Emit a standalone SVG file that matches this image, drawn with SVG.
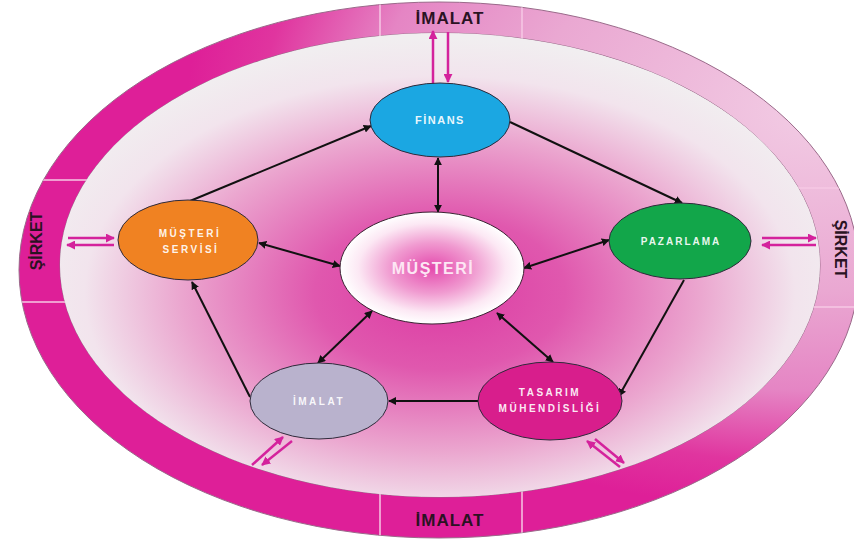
<svg xmlns="http://www.w3.org/2000/svg" width="854" height="540" viewBox="0 0 854 540">
<style>
.ring-t{font-family:"Liberation Sans",Arial,sans-serif;font-weight:bold;fill:#2a1222;}
.nt{font-family:"Liberation Sans",Arial,sans-serif;font-weight:bold;font-size:10px;fill:#ffffff;fill-opacity:0.92;text-anchor:middle;letter-spacing:2.5px;}
.node{stroke:#2e2a3a;stroke-width:1;}
.conn{stroke:#111111;stroke-width:2;fill:none;}
.pink{stroke:#d4229c;stroke-width:2.5;fill:none;}
.div{stroke:#f6c8e4;stroke-width:1.5;}
</style>
<defs>
<radialGradient id="ringG" cx="0.95" cy="0.2" r="0.75">
<stop offset="0" stop-color="#f2cce4"/>
<stop offset="0.45" stop-color="#eaa8d2"/>
<stop offset="0.7" stop-color="#e585c4"/>
<stop offset="0.88" stop-color="#e0359f"/>
<stop offset="1" stop-color="#de1f98"/>
</radialGradient>
<radialGradient id="inG" cx="0.5" cy="0.56" r="0.55">
<stop offset="0" stop-color="#dc3aa3"/>
<stop offset="0.3" stop-color="#e058ae"/>
<stop offset="0.62" stop-color="#eba6cf"/>
<stop offset="0.85" stop-color="#f2e4ed"/>
<stop offset="1" stop-color="#f1eef0"/>
</radialGradient>
<radialGradient id="musG" cx="0.5" cy="0.5" r="0.5">
<stop offset="0" stop-color="#e44aad"/>
<stop offset="0.45" stop-color="#f09ad0"/>
<stop offset="0.8" stop-color="#fce8f4"/>
<stop offset="1" stop-color="#ffffff"/>
</radialGradient>
<clipPath id="ringClip">
<path clip-rule="evenodd" d="M19 270 A420 268 0 1 0 859 270 A420 268 0 1 0 19 270 Z M60 265 A380 232 0 1 0 820 265 A380 232 0 1 0 60 265 Z"/>
</clipPath>
<marker id="ah" viewBox="0 0 10 10" markerWidth="4" markerHeight="4" refX="9" refY="5" orient="auto-start-reverse" markerUnits="strokeWidth">
<path d="M0,0 L10,5 L0,10 z" fill="#111111"/>
</marker>
<marker id="ph" viewBox="0 0 10 10" markerWidth="3.6" markerHeight="3.6" refX="9" refY="5" orient="auto-start-reverse" markerUnits="strokeWidth">
<path d="M0,0 L10,5 L0,10 z" fill="#d4229c"/>
</marker>
</defs>

<g id="ring">
<path fill="url(#ringG)" fill-rule="evenodd" stroke="#9a6a8a" stroke-width="1" d="M19 270 A420 268 0 1 0 859 270 A420 268 0 1 0 19 270 Z M60 265 A380 232 0 1 0 820 265 A380 232 0 1 0 60 265 Z"/>
<g clip-path="url(#ringClip)">
<line class="div" x1="380" y1="0" x2="380" y2="60"/>
<line class="div" x1="522" y1="0" x2="522" y2="60"/>
<line class="div" x1="380" y1="470" x2="380" y2="540"/>
<line class="div" x1="522" y1="470" x2="522" y2="540"/>
<line class="div" x1="0" y1="180" x2="110" y2="180"/>
<line class="div" x1="0" y1="302" x2="110" y2="302"/>
<line class="div" x1="760" y1="188" x2="854" y2="188"/>
<line class="div" x1="760" y1="307" x2="854" y2="307"/>
</g>
<text class="ring-t" x="450" y="24" font-size="17" letter-spacing="1" text-anchor="middle">İMALAT</text>
<text class="ring-t" x="450" y="526" font-size="17" letter-spacing="1" text-anchor="middle">İMALAT</text>
<text class="ring-t" font-size="16" text-anchor="middle" transform="translate(42 241) rotate(-90)">ŞİRKET</text>
<text class="ring-t" font-size="16" text-anchor="middle" transform="translate(835 249) rotate(90)">ŞİRKET</text>
</g>

<g id="inner">
<ellipse cx="440" cy="265" rx="380" ry="232" fill="url(#inG)"/>
</g>

<g id="connectors">
<line class="conn" x1="190" y1="201" x2="371" y2="126" marker-end="url(#ah)"/>
<line class="conn" x1="510" y1="122" x2="682" y2="203" marker-end="url(#ah)"/>
<line class="conn" x1="684" y1="280" x2="619" y2="396" marker-end="url(#ah)"/>
<line class="conn" x1="478" y1="401" x2="389" y2="401" marker-end="url(#ah)"/>
<line class="conn" x1="250" y1="397" x2="192" y2="282" marker-end="url(#ah)"/>
<line class="conn" x1="438" y1="158" x2="438" y2="212" marker-start="url(#ah)" marker-end="url(#ah)"/>
<line class="conn" x1="259" y1="243" x2="340" y2="266" marker-start="url(#ah)" marker-end="url(#ah)"/>
<line class="conn" x1="524" y1="268" x2="609" y2="240" marker-start="url(#ah)" marker-end="url(#ah)"/>
<line class="conn" x1="372" y1="311" x2="318" y2="363" marker-start="url(#ah)" marker-end="url(#ah)"/>
<line class="conn" x1="497" y1="313" x2="553" y2="362" marker-start="url(#ah)" marker-end="url(#ah)"/>
<line class="pink" x1="433" y1="84" x2="433" y2="31" marker-end="url(#ph)"/>
<line class="pink" x1="448" y1="32" x2="448" y2="82" marker-end="url(#ph)"/>
<line class="pink" x1="68" y1="238" x2="114" y2="238" marker-end="url(#ph)"/>
<line class="pink" x1="114" y1="245" x2="67" y2="245" marker-end="url(#ph)"/>
<line class="pink" x1="762" y1="238" x2="816" y2="238" marker-end="url(#ph)"/>
<line class="pink" x1="816" y1="245" x2="762" y2="245" marker-end="url(#ph)"/>
<line class="pink" x1="252" y1="465" x2="283" y2="437" marker-end="url(#ph)"/>
<line class="pink" x1="292" y1="441" x2="262" y2="465" marker-end="url(#ph)"/>
<line class="pink" x1="620" y1="467" x2="587" y2="441" marker-end="url(#ph)"/>
<line class="pink" x1="595" y1="439" x2="624" y2="463" marker-end="url(#ph)"/>
</g>

<g id="finans">
<ellipse class="node" cx="440" cy="120" rx="70" ry="37" fill="#1ba7e2"/>
<text class="nt" x="440" y="124" style="font-size:11px;letter-spacing:1.5px">FİNANS</text>
</g>
<g id="pazarlama">
<ellipse class="node" cx="680" cy="241" rx="71" ry="38" fill="#12a64a"/>
<text class="nt" x="681" y="245" style="letter-spacing:2px">PAZARLAMA</text>
</g>
<g id="musteri-servisi">
<ellipse class="node" cx="188" cy="240" rx="70" ry="40" fill="#f08222"/>
<text class="nt" x="190" y="237">MÜŞTERİ</text>
<text class="nt" x="191" y="253">SERVİSİ</text>
</g>
<g id="musteri">
<ellipse cx="432" cy="268" rx="92" ry="56" fill="url(#musG)" stroke="#3a2232" stroke-width="1"/>
<text class="nt" x="433" y="274" style="font-size:16px;letter-spacing:1.5px;fill:#fde6f4;fill-opacity:1">MÜŞTERİ</text>
</g>
<g id="imalat">
<ellipse class="node" cx="319" cy="401" rx="69" ry="38" fill="#b9b2cd"/>
<text class="nt" x="319" y="405">İMALAT</text>
</g>
<g id="tasarim">
<ellipse class="node" cx="550" cy="401" rx="72" ry="39" fill="#d81e8c"/>
<text class="nt" x="550" y="396">TASARIM</text>
<text class="nt" x="550" y="412">MÜHENDİSLİĞİ</text>
</g>
</svg>
